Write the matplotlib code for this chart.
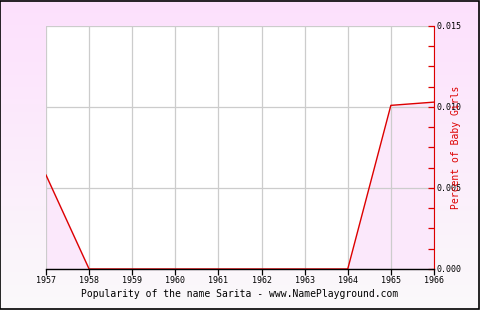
import matplotlib
matplotlib.use("Agg")
import matplotlib.pyplot as plt
import numpy as np
from matplotlib.ticker import MultipleLocator

years = [1957, 1958, 1959, 1960, 1961, 1962, 1963, 1964, 1965, 1966]
percent = [0.0058, 0.0, 0.0, 0.0, 0.0, 0.0, 0.0, 0.0, 0.0101, 0.0103]
y_ticks = [0.000, 0.005, 0.010, 0.015]
title = "Popularity of the name Sarita - www.NamePlayground.com"
ylabel = "Percent of Baby Girls"

MONO = "DejaVu Sans Mono"
RED = "#dd0000"

fig = plt.figure(figsize=(4.8, 3.1), dpi=100)

# pink-to-white background gradient over the whole figure
bg = fig.add_axes([0, 0, 1, 1], zorder=-10)
grad = np.linspace(0, 1, 256).reshape(-1, 1)
top = np.array([253, 224, 253]) / 255
bot = np.array([250, 249, 250]) / 255
img = top[None, None, :] * (1 - grad[:, :, None]) + bot[None, None, :] * grad[:, :, None]
bg.imshow(img, aspect="auto", extent=[0, 1, 0, 1])
bg.set_axis_off()
bg.add_patch(plt.Rectangle((0.001, 0.002), 0.997, 0.995, transform=bg.transAxes,
                           fill=False, edgecolor="black", lw=1.2))

ax = fig.add_axes([0.0958, 0.1323, 0.8083, 0.7839])
ax.set_facecolor("white")
ax.fill_between(years, percent, 0, color="#fbe8fb", zorder=0.1)
ax.plot(years, percent, color=RED, lw=1.0, zorder=3)

ax.set_xlim(years[0], years[-1])
ax.set_ylim(y_ticks[0], y_ticks[-1])
ax.set_xticks(years)
ax.set_xticklabels([str(y) for y in years], fontsize=6, family=MONO)
ax.grid(True, color="#cccccc", lw=0.9)
ax.set_axisbelow(True)

ax.yaxis.tick_right()
ax.set_yticks(y_ticks)
ax.set_yticklabels([f"{v:.3f}" for v in y_ticks], fontsize=6, family=MONO)
ax.yaxis.set_minor_locator(MultipleLocator(0.00125))
ax.tick_params(axis="y", which="both", direction="in", color=RED, length=4, width=0.9, pad=2)
ax.tick_params(axis="x", direction="out", length=4, width=0.9, pad=1)

for s in ["top", "left"]:
    ax.spines[s].set_visible(False)
ax.spines["right"].set_color(RED)
ax.spines["right"].set_zorder(4)
ax.spines["bottom"].set_color("black")
ax.spines["bottom"].set_linewidth(1.0)
ax.spines["bottom"].set_zorder(4)

ax.yaxis.set_label_position("right")
ax.set_ylabel(ylabel, color=RED, fontsize=7, family=MONO, labelpad=-8)

fig.text(0.5, 0.052, title, ha="center", va="center", fontsize=7, family=MONO)

fig.savefig("out.png", dpi=100)
